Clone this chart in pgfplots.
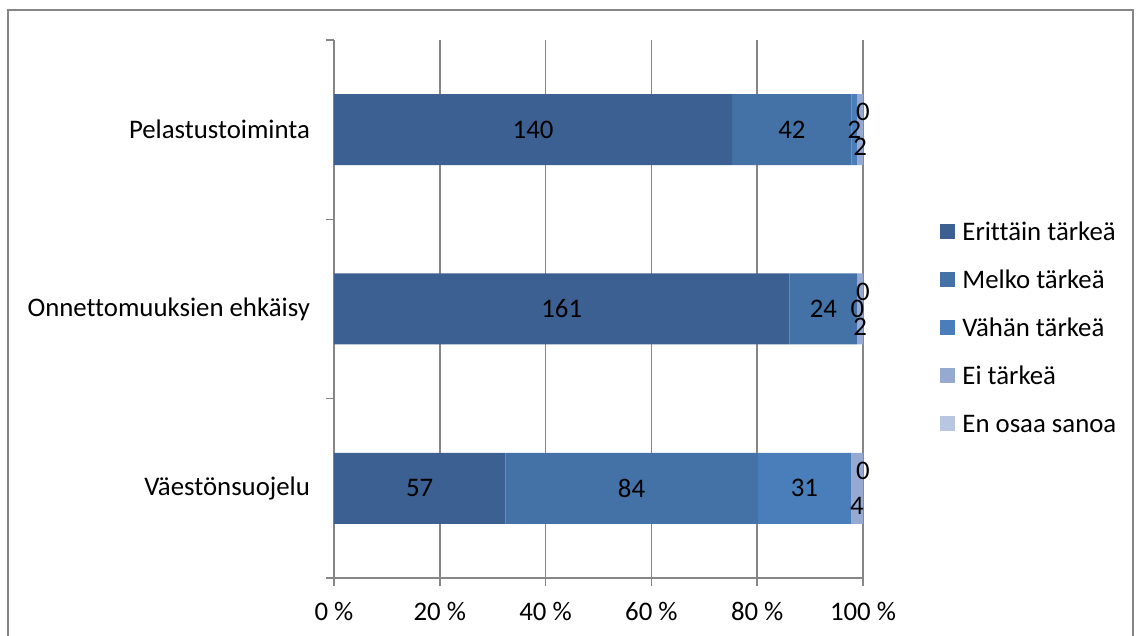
\documentclass[border=0pt]{standalone}
\usepackage{pgfplots}
\pgfplotsset{compat=1.18}
\usepackage{pgfplotstable}
\usepackage{fontspec}
\setmainfont{Carlito}[Ligatures={NoCommon}]

\definecolor{cErit}{HTML}{3C6091}
\definecolor{cMelko}{HTML}{4472A7}
\definecolor{cVahan}{HTML}{4A7EBB}
\definecolor{cEi}{HTML}{95A9D1}
\definecolor{cEos}{HTML}{B9C6E2}
\definecolor{axisgray}{HTML}{868686}

% answer counts per task: pos = row on the category axis
\pgfplotstableread{
pos e m v ei eos
0 57 84 31 4 0
1 161 24 0 2 0
2 140 42 2 2 0
}\answers
\pgfplotstablecreatecol[create col/expr={\thisrow{e}+\thisrow{m}+\thisrow{v}+\thisrow{ei}+\thisrow{eos}}]{tot}\answers

\pgfplotsset{
  frame axis/.style={
    scale only axis, width=264.5pt, height=269pt,
    at={(167pt,29pt)}, anchor=south west,
    xmin=0, xmax=100, ymin=-0.5, ymax=2.5,
  },
}

\begin{document}
\begin{tikzpicture}[font=\fontsize{13.4}{16}\selectfont]
\useasboundingbox (0,0) rectangle (570.5pt,318pt);
\draw[axisgray, line width=0.75pt] (4pt,-2pt) -- (4pt,313pt) -- (566.5pt,313pt) -- (566.5pt,-2pt);

\begin{axis}[frame axis,
  xbar stacked, bar width=35.5pt,
  axis lines=left, axis line style={axisgray, line width=0.8pt, -},
  tick align=outside, major tick length=4pt,
  tick style={axisgray, line width=0.8pt},
  xmajorgrids, grid style={axisgray, line width=0.8pt},
  xtick={0,20,...,100},
  xticklabels={0 \%,20 \%,40 \%,60 \%,80 \%,100 \%},
  xticklabel style={yshift=-4.5pt},
  ytick={-0.5,0.5,1.5,2.5}, yticklabels={},
  extra y ticks={0,1,2},
  extra y tick labels={Väestönsuojelu,Onnettomuuksien ehkäisy,Pelastustoiminta},
  extra y tick style={major tick length=0pt, yticklabel style={xshift=-8.5pt}},
  legend style={draw=none, fill=none, at={(1.1456,0.4647)}, anchor=west,
    inner sep=0pt, row sep=15pt, column sep=3.5pt,
    nodes={inner sep=0pt, text height=9pt, text depth=0pt}},
  legend cell align=left,
  legend image code/.code={\fill[#1] (0pt,-3.75pt) rectangle (7.5pt,3.75pt);},
]
\addplot[fill=cErit, draw=none] table[y=pos, x expr=100*\thisrow{e}/\thisrow{tot}]{\answers};
\addplot[fill=cMelko, draw=none] table[y=pos, x expr=100*\thisrow{m}/\thisrow{tot}]{\answers};
\addplot[fill=cVahan, draw=none] table[y=pos, x expr=100*\thisrow{v}/\thisrow{tot}]{\answers};
\addplot[fill=cEi, draw=none] table[y=pos, x expr=100*\thisrow{ei}/\thisrow{tot}]{\answers};
\addplot[fill=cEos, draw=none] table[y=pos, x expr=100*\thisrow{eos}/\thisrow{tot}]{\answers};
\legend{Erittäin tärkeä, Melko tärkeä, Vähän tärkeä, Ei tärkeä, En osaa sanoa}
\end{axis}

% value labels, centred on their segments
\begin{axis}[frame axis, hide axis, clip=false,
  only marks, mark size=0pt,
  nodes near coords, point meta=explicit,
  nodes near coords align={center},
  every node near coord/.append style={black, inner sep=0pt},
  /pgf/number format/assume math mode=true]
\addplot[draw=none] table[y=pos, x expr=50*\thisrow{e}/\thisrow{tot}, meta=e]{\answers};
\addplot[draw=none] table[y=pos, x expr=100*(\thisrow{e}+0.5*\thisrow{m})/\thisrow{tot}, meta=m]{\answers};
\addplot[draw=none] table[y=pos, x expr=100*(\thisrow{e}+\thisrow{m}+0.5*\thisrow{v})/\thisrow{tot}, meta=v]{\answers};
\addplot[draw=none, every node near coord/.append style={yshift=-8.75pt}] table[y=pos, x expr=100*(\thisrow{e}+\thisrow{m}+\thisrow{v}+0.5*\thisrow{ei})/\thisrow{tot}, meta=ei]{\answers};
\addplot[draw=none, every node near coord/.append style={yshift=8.75pt}] table[y=pos, x expr=100*(\thisrow{tot}-0.5*\thisrow{eos})/\thisrow{tot}, meta=eos]{\answers};
\end{axis}
\end{tikzpicture}
\end{document}
